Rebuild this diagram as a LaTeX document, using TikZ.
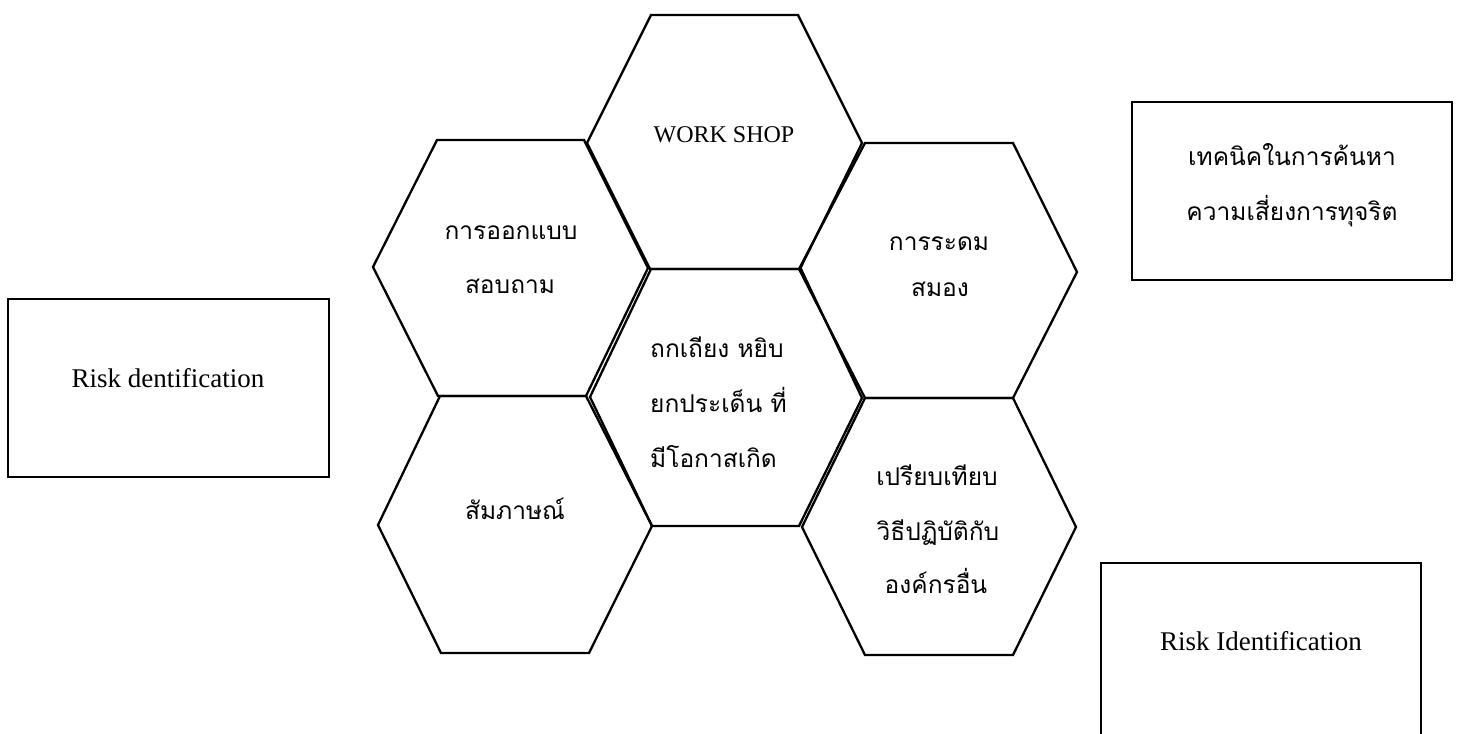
\documentclass[tikz,border=0pt]{standalone}
\usepackage{fontspec}
\setmainfont{Liberation Serif}
\newfontfamily\thaifont[Script=Thai]{Loma}
\begin{document}
\begin{tikzpicture}[x=1pt,y=-1pt,
  hexline/.style={line width=2.3pt, line join=miter},
  boxline/.style={line width=2.5pt},
  thl/.style={anchor=base, inner sep=0pt, font=\thaifont\fontsize{24.5}{24.5}\selectfont},
  enl/.style={anchor=base, inner sep=0pt, font=\fontsize{24}{24}\selectfont},
  enbox/.style={anchor=base, inner sep=0pt, font=\fontsize{27}{27}\selectfont}]
\useasboundingbox (0,0) rectangle (1460,734);
\fill[white] (0,0) rectangle (1460,734);
\begin{scope}
\clip (0,0) rectangle (1460,734);
% hexagons
\draw[hexline] (651,15) -- (798,15) -- (862,143) -- (800,269) -- (650,269) -- (587,143) -- cycle;
\draw[hexline] (437,140) -- (584,140) -- (648,268) -- (586,396) -- (438,396) -- (373,267) -- cycle;
\draw[hexline] (865,143) -- (1013,143) -- (1077,272) -- (1013,398) -- (865,398) -- (799,269) -- cycle;
\draw[hexline] (651,269) -- (801,269) -- (862,398) -- (799,526) -- (652,526) -- (590,397) -- cycle;
\draw[hexline] (440,396) -- (586,396) -- (652,526) -- (589,653) -- (441,653) -- (378,525) -- cycle;
\draw[hexline] (865,398) -- (1013,398) -- (1076,527) -- (1013,655) -- (865,655) -- (802,527) -- cycle;
% boxes
\node[boxline, draw, rectangle, minimum width=321pt, minimum height=178pt, inner sep=0pt] (bl) at (168.5,388) {};
\node[boxline, draw, rectangle, minimum width=320pt, minimum height=178pt, inner sep=0pt] (br1) at (1292,191) {};
\node[boxline, draw, rectangle, minimum width=320pt, minimum height=190pt, inner sep=0pt] (br2) at (1261,658) {};
\end{scope}
% texts
\node[enl] (ws) at (724,142) {WORK SHOP};
\node[thl] (ul1) at (511,239) {การออกแบบ};
\node[thl] (ul2) at (510,293) {สอบถาม};
\node[thl] (ur1) at (939,250) {การระดม};
\node[thl] (ur2) at (940,296) {สมอง};
\node[thl, anchor=base west] (c1) at (650,357) {ถกเถียง หยิบ};
\node[thl, anchor=base west] (c2) at (650,412) {ยกประเด็น ที่};
\node[thl, anchor=base west] (c3) at (650,467) {มีโอกาสเกิด};
\node[thl] (ll1) at (515,519) {สัมภาษณ์};
\node[thl] (lr1) at (937,485) {เปรียบเทียบ};
\node[thl] (lr2) at (938,540) {วิธีปฏิบัติกับ};
\node[thl] (lr3) at (936,593) {องค์กรอื่น};
\node[thl] (t1) at (1292,165) {เทคนิคในการค้นหา};
\node[thl] (t2) at (1292,220) {ความเสี่ยงการทุจริต};
\node[enbox] (rl) at (168,387) {Risk dentification};
\node[enbox] (rr) at (1261,650) {Risk Identification};
\end{tikzpicture}
\end{document}
